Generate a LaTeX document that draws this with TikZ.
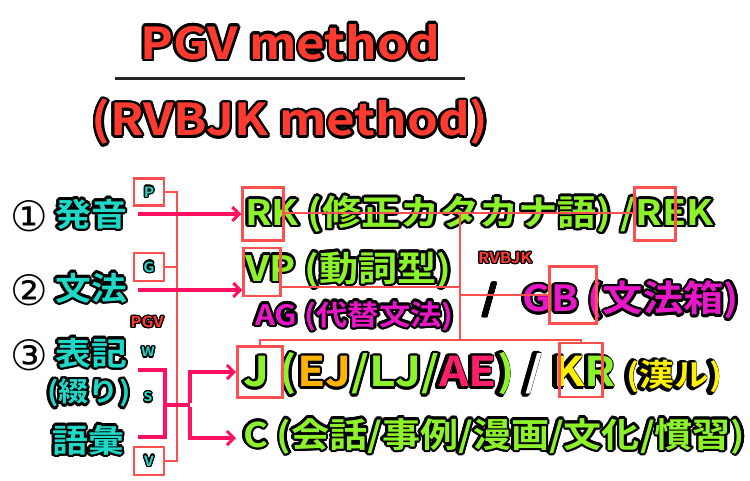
\documentclass[tikz,border=0pt]{standalone}
\usepackage{fontspec}
\setmainfont{Noto Sans CJK JP Bold}[FakeStretch=1.12]
\newfontfamily\djfont{DejaVu Sans}[BoldFont=* Bold]
\definecolor{tred}{HTML}{FF3B30}
\definecolor{cy}{HTML}{1ED8C8}
\definecolor{gr}{HTML}{8CF22A}
\definecolor{mg}{HTML}{E818C8}
\definecolor{org}{HTML}{FFB300}
\definecolor{pk}{HTML}{FF1F6A}
\definecolor{ye}{HTML}{FFF200}
\definecolor{ln}{HTML}{FF5050}
\definecolor{ar}{HTML}{FF1060}
\newdimen\olw
\newsavebox\olbox
\newsavebox\olfg
\newcommand\oc[2]{\rlap{\kern#1\raisebox{#2}{\usebox\olbox}}}
\newcommand\olt[3][2.5pt]{\sbox\olbox{\color{black}\let\textcolor\ignorecol#3}\sbox\olfg{\color{#2}#3}\olw=#1\relax
\oc{\olw}{0pt}\oc{-\olw}{0pt}\oc{0pt}{\olw}\oc{0pt}{-\olw}%
\oc{0.7\olw}{0.7\olw}\oc{-0.7\olw}{0.7\olw}\oc{0.7\olw}{-0.7\olw}\oc{-0.7\olw}{-0.7\olw}%
\oc{0.92\olw}{0.38\olw}\oc{-0.92\olw}{0.38\olw}\oc{0.92\olw}{-0.38\olw}\oc{-0.92\olw}{-0.38\olw}%
\oc{0.38\olw}{0.92\olw}\oc{-0.38\olw}{0.92\olw}\oc{0.38\olw}{-0.92\olw}\oc{-0.38\olw}{-0.92\olw}%
\usebox\olfg}
\newcommand\ignorecol[2]{#2}
\usetikzlibrary{arrows.meta}
\tikzset{
 t/.style={inner sep=0pt, anchor=west},
 lnk/.style={draw=ln, line width=1.5pt},
 arw/.style={draw=ar, line width=3.5pt, -{Straight Barb[length=7pt,width=14pt,line width=3pt]}},
 brk/.style={draw=ar, line width=3.5pt},
 hb/.style={draw=ln, line width=2.2pt, inner sep=0pt, minimum width=#1},
}
\begin{document}
\begin{tikzpicture}[x=1pt,y=-1pt]
\useasboundingbox[fill=white] (0,0) rectangle (750,480);
% title
\node[inner sep=0pt] (t1) at (290,42) {\fontsize{44}{46}\selectfont\olt{tred}{PGV method}};
\draw[line width=3pt, draw=black!85] (115,78) -- (465,78);
\node[inner sep=0pt] (t2) at (290,122) {\fontsize{44}{46}\selectfont\olt{tred}{(RVBJK method)}};
% left labels
\node[t] (n1) at (10,216) {\fontsize{42}{44}\selectfont\djfont ①};
\node[t] (c1) at (55,214) {\fontsize{32}{34}\selectfont\olt{cy}{発音}};
\node[t] (n2) at (10,290) {\fontsize{42}{44}\selectfont\djfont ②};
\node[t] (c2) at (55,288) {\fontsize{32}{34}\selectfont\olt{cy}{文法}};
\node[t] (n3) at (10,355) {\fontsize{42}{44}\selectfont\djfont ③};
\node[t] (c3) at (55,353) {\fontsize{32}{34}\selectfont\olt{cy}{表記}};
\node[t] (c3b) at (47,393) {\fontsize{27}{29}\selectfont\olt{cy}{(綴り)}};
\node[t] (c4) at (52,440) {\fontsize{32}{34}\selectfont\olt{cy}{語彙}};
% small letters
\node[hb=30pt, minimum height=27pt] (P) at (149,192) {\fontsize{14}{15}\selectfont\olt[1.3pt]{cy}{P}};
\node[hb=30pt, minimum height=28pt] (G) at (149,267) {\fontsize{14}{15}\selectfont\olt[1.3pt]{cy}{G}};
\node[hb=30pt, minimum height=28pt] (V) at (149,461) {\fontsize{14}{15}\selectfont\olt[1.3pt]{cy}{V}};
\node[inner sep=0pt] (pgv) at (147,322) {\fontsize{15}{16}\selectfont\olt[1.3pt]{tred}{PGV}};
\node[inner sep=0pt] (W) at (148,352) {\fontsize{13}{14}\selectfont\olt[1.3pt]{cy}{W}};
\node[inner sep=0pt] (S) at (148,397) {\fontsize{13}{14}\selectfont\olt[1.3pt]{cy}{S}};
\coordinate (vx) at (177,0);
\draw[lnk] (P.east) -- (P.east -| vx) -- (V.east -| vx) -- (V.east);
\draw[lnk] (G.east) -- (G.east -| vx);
% right side text
\node[t] (rk) at (245,214) {\fontsize{35}{37}\selectfont\olt{gr}{RK (修正カタカナ語) /REK}};
\node[t] (vp) at (245,270) {\fontsize{35}{37}\selectfont\olt{gr}{VP (動詞型)}};
\node[t] (ag) at (255,316) {\fontsize{28}{30}\selectfont\olt{mg}{AG (代替文法)}};
\node[inner sep=0pt] (rvb) at (505,258) {\fontsize{15}{16}\selectfont\olt[1.3pt]{tred}{RVBJK}};
\node[inner sep=0pt] (sl) at (490,300) {\fontsize{34}{36}\selectfont\olt[1.2pt]{black}{/}};
\node[t] (gb) at (522,300) {\fontsize{36}{38}\selectfont\olt{mg}{GB (文法箱)}};
\node[t] (j) at (243,374) {\fontsize{41}{43}\selectfont\olt{gr}{J (\textcolor{org}{EJ}/LJ/\textcolor{pk}{AE}) \textcolor{white}{/} \textcolor{ye}{K}R \textcolor{ye}{\fontsize{31}{33}\selectfont(漢ル)}}};
\node[t] (c) at (243,436) {\fontsize{34}{36}\selectfont\olt{gr}{C (会話/事例/漫画/文化/慣習)}};
% highlight boxes
\node[hb=41pt, minimum height=53pt] (bR) at (263,214) {};
\node[hb=41pt, minimum height=53pt] (bR2) at (655,214) {};
\node[hb=37pt, minimum height=48pt] (bV) at (262,272) {};
\node[hb=47pt, minimum height=57pt] (bB) at (573,295) {};
\node[hb=45pt, minimum height=51pt] (bJ) at (260,372) {};
\node[hb=43pt, minimum height=54pt] (bK) at (581,370) {};
\coordinate (mx) at (460,0);
\coordinate (hy) at (0,340);
\draw[lnk] (bR.east |- 0,213) -- (bR2.west |- 0,213);
\draw[lnk] (mx |- 0,213) -- (mx |- hy);
\draw[lnk] (bV.east |- 0,287) -- (mx |- 0,287);
\draw[lnk] (mx |- 0,295) -- (bB.west |- 0,295);
\draw[lnk] (bJ.north) -- (bJ.north |- hy) -- (bK.north |- hy) -- (bK.north);
% arrows
\draw[arw] (138,214) -- (bR.west);
\draw[arw] (138,290) -- (bV.west |- 0,290);
\coordinate (b1) at (138,370);
\coordinate (b2) at (138,437);
\draw[brk] (b1) -- (165,370) -- (165,437) -- (b2);
\draw[brk] (165,405) -- (190,405);
\draw[arw] (190,403) |- (236,372);
\draw[arw] (190,407) |- (236,438);
\end{tikzpicture}
\end{document}
